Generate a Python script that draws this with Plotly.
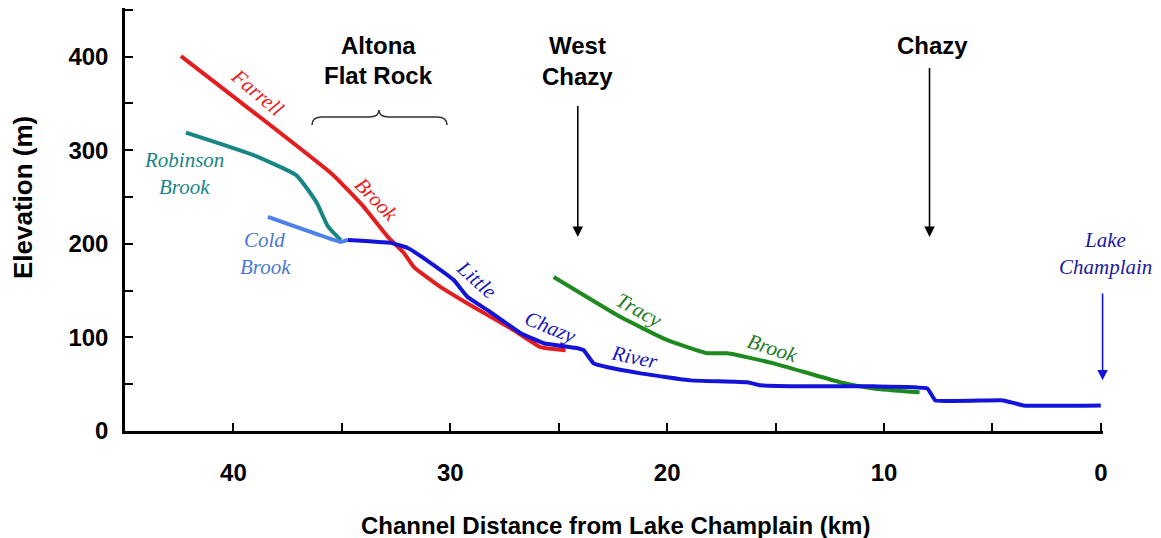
import plotly.graph_objects as go

# ---------------- data (km from Lake Champlain, elevation m) ----------------
farrell_km = [42.42, 35.42, 33.99, 32.88, 32.14, 31.68, 30.44, 28.92, 27.07, 25.83, 24.68]
farrell_m = [400.6, 273.8, 239.5, 207.4, 190.2, 175.2, 153.8, 132.4, 107.7, 89.5, 86.3]

robinson_km = [42.19, 39.10, 37.12, 36.66, 36.15, 35.65, 35.05]
robinson_m = [318.9, 295.0, 273.6, 260.8, 243.6, 219.0, 204.0]

cold_km = [38.41, 35.05, 34.73]
cold_m = [228.8, 202.0, 204.2]

little_km = [34.73, 32.74, 31.96, 30.90, 29.84, 29.20, 28.28, 26.75, 25.69, 24.12, 23.85, 23.39,
             22.74, 21.22, 18.92, 16.29, 15.69, 13.53, 10.49, 8.00, 7.63, 4.49, 3.57, 0.0]
little_m = [204.2, 201.0, 195.6, 179.5, 161.3, 143.1, 129.1, 104.5, 93.8, 88.4, 86.3, 72.3,
            68.1, 61.6, 54.1, 52.0, 48.8, 47.7, 47.7, 45.5, 32.7, 32.7, 27.3, 27.3]

tracy_km = [25.23, 22.14, 19.98, 18.13, 17.21, 15.09, 12.00, 10.48, 8.36]
tracy_m = [164.5, 121.7, 97.0, 83.1, 83.1, 72.3, 52.0, 45.5, 41.3]

x_ticks = [0, 5, 10, 15, 20, 25, 30, 35, 40]
x_ticktext = ["0", "", "10", "", "20", "", "30", "", "40"]
y_ticks = [0, 50, 100, 150, 200, 250, 300, 350, 400, 450]
y_ticktext = ["0", "", "100", "", "200", "", "300", "", "400", ""]

# ---------------- figure ----------------
W, H = 1161, 538
L, R, T, B = 125, 58, 8, 107
PW, PH = W - L - R, H - T - B


def px(x):
    return (x - L) / PW


def py(y):
    return (H - B - y) / PH


RED = "#E41E1E"
TEAL = "#188585"
LBLUE = "#4C80EA"
BLUE = "#1414D8"
GREEN = "#1E8A1E"

fig = go.Figure()
series = [
    (farrell_km, farrell_m, RED, "Farrell Brook", 0.4),
    (robinson_km, robinson_m, TEAL, "Robinson Brook", 0.5),
    (cold_km, cold_m, LBLUE, "Cold Brook", 0.2),
    (tracy_km, tracy_m, GREEN, "Tracy Brook", 0.4),
    (little_km, little_m, BLUE, "Little Chazy River", 0.3),
]
for xs, ys, col, name, sm in series:
    fig.add_trace(go.Scatter(x=xs, y=ys, mode="lines", name=name,
                             line=dict(color=col, width=4, shape="spline", smoothing=sm)))

SANS = "Liberation Sans, Arial, sans-serif"
SERIF = "Liberation Serif, Times New Roman, serif"

ann = []


def txt(text, x, y, size, color="black", angle=0, family=SANS):
    ann.append(dict(text=text, x=px(x), y=py(y), xref="paper", yref="paper",
                    xanchor="center", yanchor="middle", showarrow=False,
                    textangle=angle, font=dict(family=family, size=size, color=color)))


# place-name labels
txt("<b>Altona</b>", 378, 45, 24)
txt("<b>Flat Rock</b>", 378, 75, 24)
txt("<b>West</b>", 577, 45, 24)
txt("<b>Chazy</b>", 577, 76, 24)
txt("<b>Chazy</b>", 932, 45, 24)
txt("<i>Lake</i>", 1105, 240, 21, "#1A1A9E", family=SERIF)
txt("<i>Champlain</i>", 1105, 267, 21, "#1A1A9E", family=SERIF)

# stream labels
txt("<i>Farrell</i>", 257, 92, 21, RED, 40, SERIF)
txt("<i>Brook</i>", 376, 199, 21, RED, 46, SERIF)
txt("<i>Robinson</i>", 184, 160, 21, TEAL, 0, SERIF)
txt("<i>Brook</i>", 184, 187, 21, TEAL, 0, SERIF)
txt("<i>Cold</i>", 264, 240, 21, "#4A78D0", 0, SERIF)
txt("<i>Brook</i>", 265, 267, 21, "#4A78D0", 0, SERIF)
txt("<i>Little</i>", 476, 279, 21, "#1818B8", 42, SERIF)
txt("<i>Chazy</i>", 550, 327, 21, "#1818B8", 22, SERIF)
txt("<i>River</i>", 634, 357, 21, "#1818B8", 12, SERIF)
txt("<i>Tracy</i>", 639, 310, 21, "#237A23", 29, SERIF)
txt("<i>Brook</i>", 772, 348, 21, "#237A23", 18, SERIF)

# axis titles
ann.append(dict(text="<b>Elevation (m)</b>", x=px(23), y=py(198), xref="paper", yref="paper",
                xanchor="center", yanchor="middle", showarrow=False, textangle=-90,
                font=dict(family=SANS, size=26, color="black")))
ann.append(dict(text="<b>Channel Distance from Lake Champlain (km)</b>", x=px(615), y=py(525),
                xref="paper", yref="paper", xanchor="center", yanchor="middle", showarrow=False,
                font=dict(family=SANS, size=24, color="black")))

# arrows
for xk, tail, tip, col in [(24.12, 348.9, 207.4, "black"), (7.90, 389.6, 207.4, "black"),
                           (-0.08, 148.4, 54.1, BLUE)]:
    ann.append(dict(x=xk, y=tip, ax=xk, ay=tail, xref="x", yref="y", axref="x", ayref="y",
                    text="", showarrow=True, arrowhead=2, arrowsize=1.3, arrowwidth=1.6,
                    arrowcolor=col, standoff=0))

# curly brace
pts = [(312, 125), (312, 117), (322, 117), (369, 117), (379, 117), (379, 110),
       (379, 117), (389, 117), (437, 117), (447, 117), (447, 125)]
P = [(px(a), py(b)) for a, b in pts]
path = (f"M {P[0][0]},{P[0][1]} Q {P[1][0]},{P[1][1]} {P[2][0]},{P[2][1]} "
        f"L {P[3][0]},{P[3][1]} Q {P[4][0]},{P[4][1]} {P[5][0]},{P[5][1]} "
        f"Q {P[6][0]},{P[6][1]} {P[7][0]},{P[7][1]} L {P[8][0]},{P[8][1]} "
        f"Q {P[9][0]},{P[9][1]} {P[10][0]},{P[10][1]}")

fig.update_layout(
    width=W, height=H, margin=dict(l=L, r=R, t=T, b=B),
    paper_bgcolor="white", plot_bgcolor="white", showlegend=False,
    annotations=ann,
    shapes=[dict(type="path", path=path, xref="paper", yref="paper",
                 line=dict(color="#333333", width=1.6))],
    xaxis=dict(range=[45, -0.1], tickvals=x_ticks, ticktext=x_ticktext,
               ticks="inside", ticklen=8, tickwidth=1.8, tickcolor="black",
               showline=True, linecolor="black", linewidth=2.5,
               showgrid=False, zeroline=False, ticklabelstandoff=18,
               tickfont=dict(family=SANS, size=24, color="black", weight="bold")),
    yaxis=dict(range=[0, 452], tickvals=y_ticks, ticktext=y_ticktext,
               ticks="inside", ticklen=8, tickwidth=1.8, tickcolor="black",
               showline=True, linecolor="black", linewidth=2.5,
               showgrid=False, zeroline=False, ticklabelstandoff=9,
               tickfont=dict(family=SANS, size=24, color="black", weight="bold")),
)

fig.write_html("out.html")
